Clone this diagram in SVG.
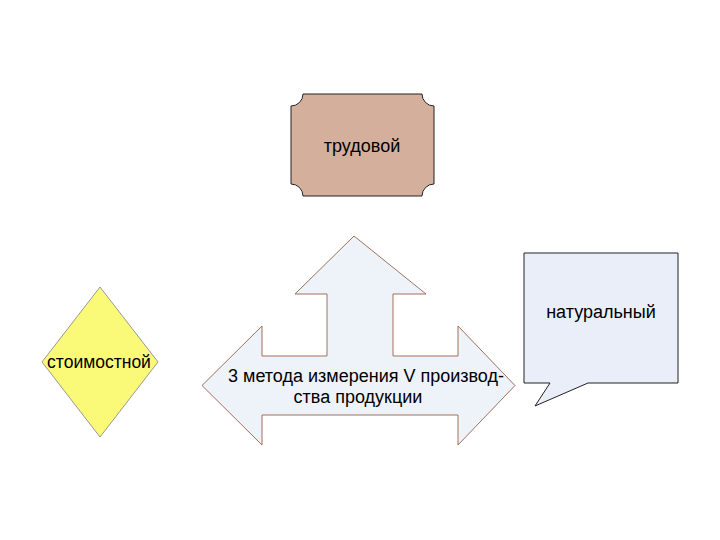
<svg xmlns="http://www.w3.org/2000/svg" width="720" height="540" viewBox="0 0 720 540">
<style>
.t{font-family:"Liberation Sans",Arial,sans-serif;font-size:18px;fill:#000;text-anchor:middle}
.s{stroke:#222;stroke-width:1}
</style>
<rect width="720" height="540" fill="#fff"/>
<g id="trudovoy">
<path class="s" fill="#d4b09c" d="M303,94 H422 A12,12 0 0 0 434,106 V184 A12,12 0 0 0 422,196 H303 A12,12 0 0 0 291,184 V106 A12,12 0 0 0 303,94 Z"/>
<text class="t" x="362" y="152">трудовой</text>
</g>
<g id="center">
<path fill="#eef2f9" stroke="#a0705a" stroke-width="1" d="M354,236 L426,294 H393 V356 H458 V326 L515,385.5 L458,445 V415 H262 V445 L202,385.5 L262,326 V356 H327 V294 H295 Z"/>
<text class="t" x="366" y="382">3 метода измерения V производ-</text>
<text class="t" x="358" y="403">ства продукции</text>
</g>
<g id="naturalny">
<path class="s" fill="#eaeef9" d="M524,253 H678 V383 H588 L535,406 L550,383 H524 Z"/>
<text class="t" x="601" y="318">натуральный</text>
</g>
<g id="stoimostnoy">
<path stroke="#999" stroke-width="1" fill="#fafa78" d="M100,287 L158,362 L100,437 L42,362 Z"/>
<text class="t" style="font-size:17.5px" x="99" y="368">стоимостной</text>
</g>
<g id="connectors"/>
</svg>
